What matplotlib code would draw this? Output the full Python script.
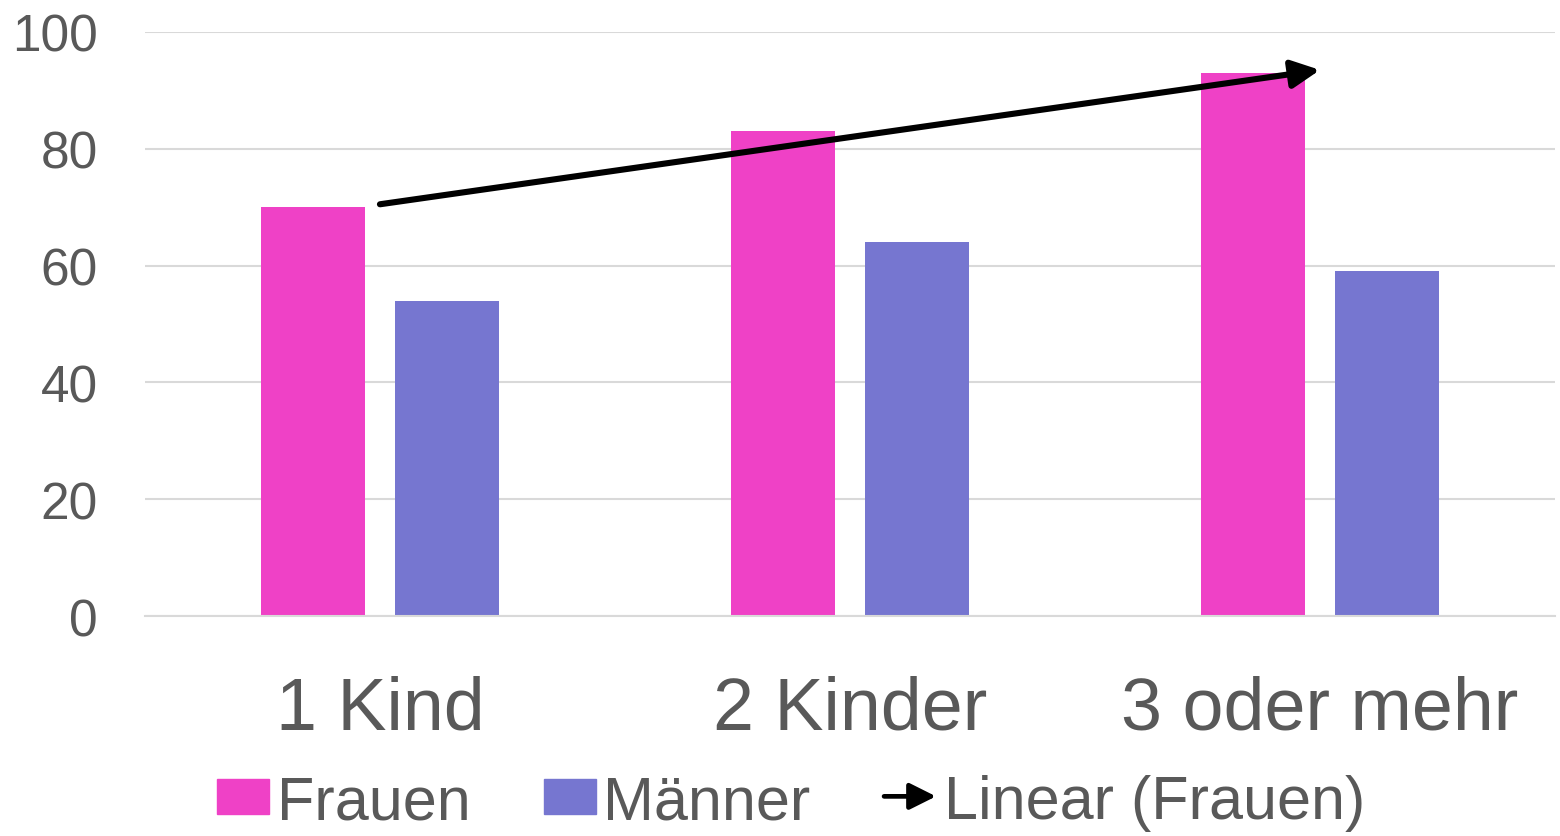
import numpy as np
import matplotlib.pyplot as plt
from matplotlib.patches import Patch, FancyArrowPatch
from matplotlib.legend_handler import HandlerPatch

plt.rcParams['font.family'] = ['Liberation Sans', 'DejaVu Sans']

# data
categories = ['1 Kind', '2 Kinder', '3 oder mehr']
frauen = [70, 83, 93]
maenner = [54, 64, 59]
y_ticks = [0, 20, 40, 60, 80, 100]

pink = '#EF41C6'
purple = '#7676D0'
grey_text = '#595959'
grid_col = '#D9D9D9'


class HandlerArrow(HandlerPatch):
    def create_artists(self, legend, orig_handle, xdescent, ydescent,
                       width, height, fontsize, trans):
        y = height / 2 - ydescent
        a = FancyArrowPatch((-xdescent, y), (-xdescent + width, y),
                            arrowstyle='-|>,head_length=0.8,head_width=0.4',
                            mutation_scale=20, lw=3.4, color='black',
                            capstyle='round', shrinkA=0, shrinkB=0,
                            transform=trans)
        return [a]


fig = plt.figure(figsize=(15.6, 8.37), dpi=100)
ax = fig.add_axes([0.0929, 0.2628, 0.9039, 0.6978])

x = np.arange(len(categories))
w = 0.223
off = 0.1425
ax.bar(x - off, frauen, w, color=pink, zorder=2)
ax.bar(x + off, maenner, w, color=purple, zorder=2)

# linear trendline of Frauen
k, d = np.polyfit(x, frauen, 1)
ax.annotate('', xy=(x[-1], k * x[-1] + d), xytext=(x[0], k * x[0] + d),
            arrowprops=dict(arrowstyle='-|>,head_length=0.85,head_width=0.42',
                            mutation_scale=20, lw=4.4, color='black',
                            capstyle='round', shrinkA=0, shrinkB=0),
            zorder=3)

ax.set_xlim(-0.5, len(categories) - 0.5)
ax.set_ylim(0, 100)
ax.set_yticks(y_ticks)
ax.set_xticks(x)
ax.set_xticklabels(categories)
ax.yaxis.grid(True, color=grid_col, lw=1.5, zorder=0)
for s in ['top', 'right', 'left']:
    ax.spines[s].set_visible(False)
ax.spines['bottom'].set_color(grid_col)
ax.spines['bottom'].set_linewidth(1.5)
ax.tick_params(axis='y', length=0, pad=34, labelsize=37, labelcolor=grey_text)
ax.tick_params(axis='x', length=0, pad=42, labelsize=53, labelcolor=grey_text)

handles = [Patch(color=pink), Patch(color=purple), Patch(color='black')]
labels = ['Frauen', 'Männer', 'Linear (Frauen)']
fig.legend(handles, labels, loc='center', bbox_to_anchor=(0.507, 0.04),
           ncol=3, frameon=False, fontsize=44, labelcolor=grey_text,
           handlelength=0.85, handleheight=0.52, handletextpad=0.13,
           columnspacing=1.2, borderpad=0,
           handler_map={handles[2]: HandlerArrow()})

fig.savefig('out.png', dpi=100)
